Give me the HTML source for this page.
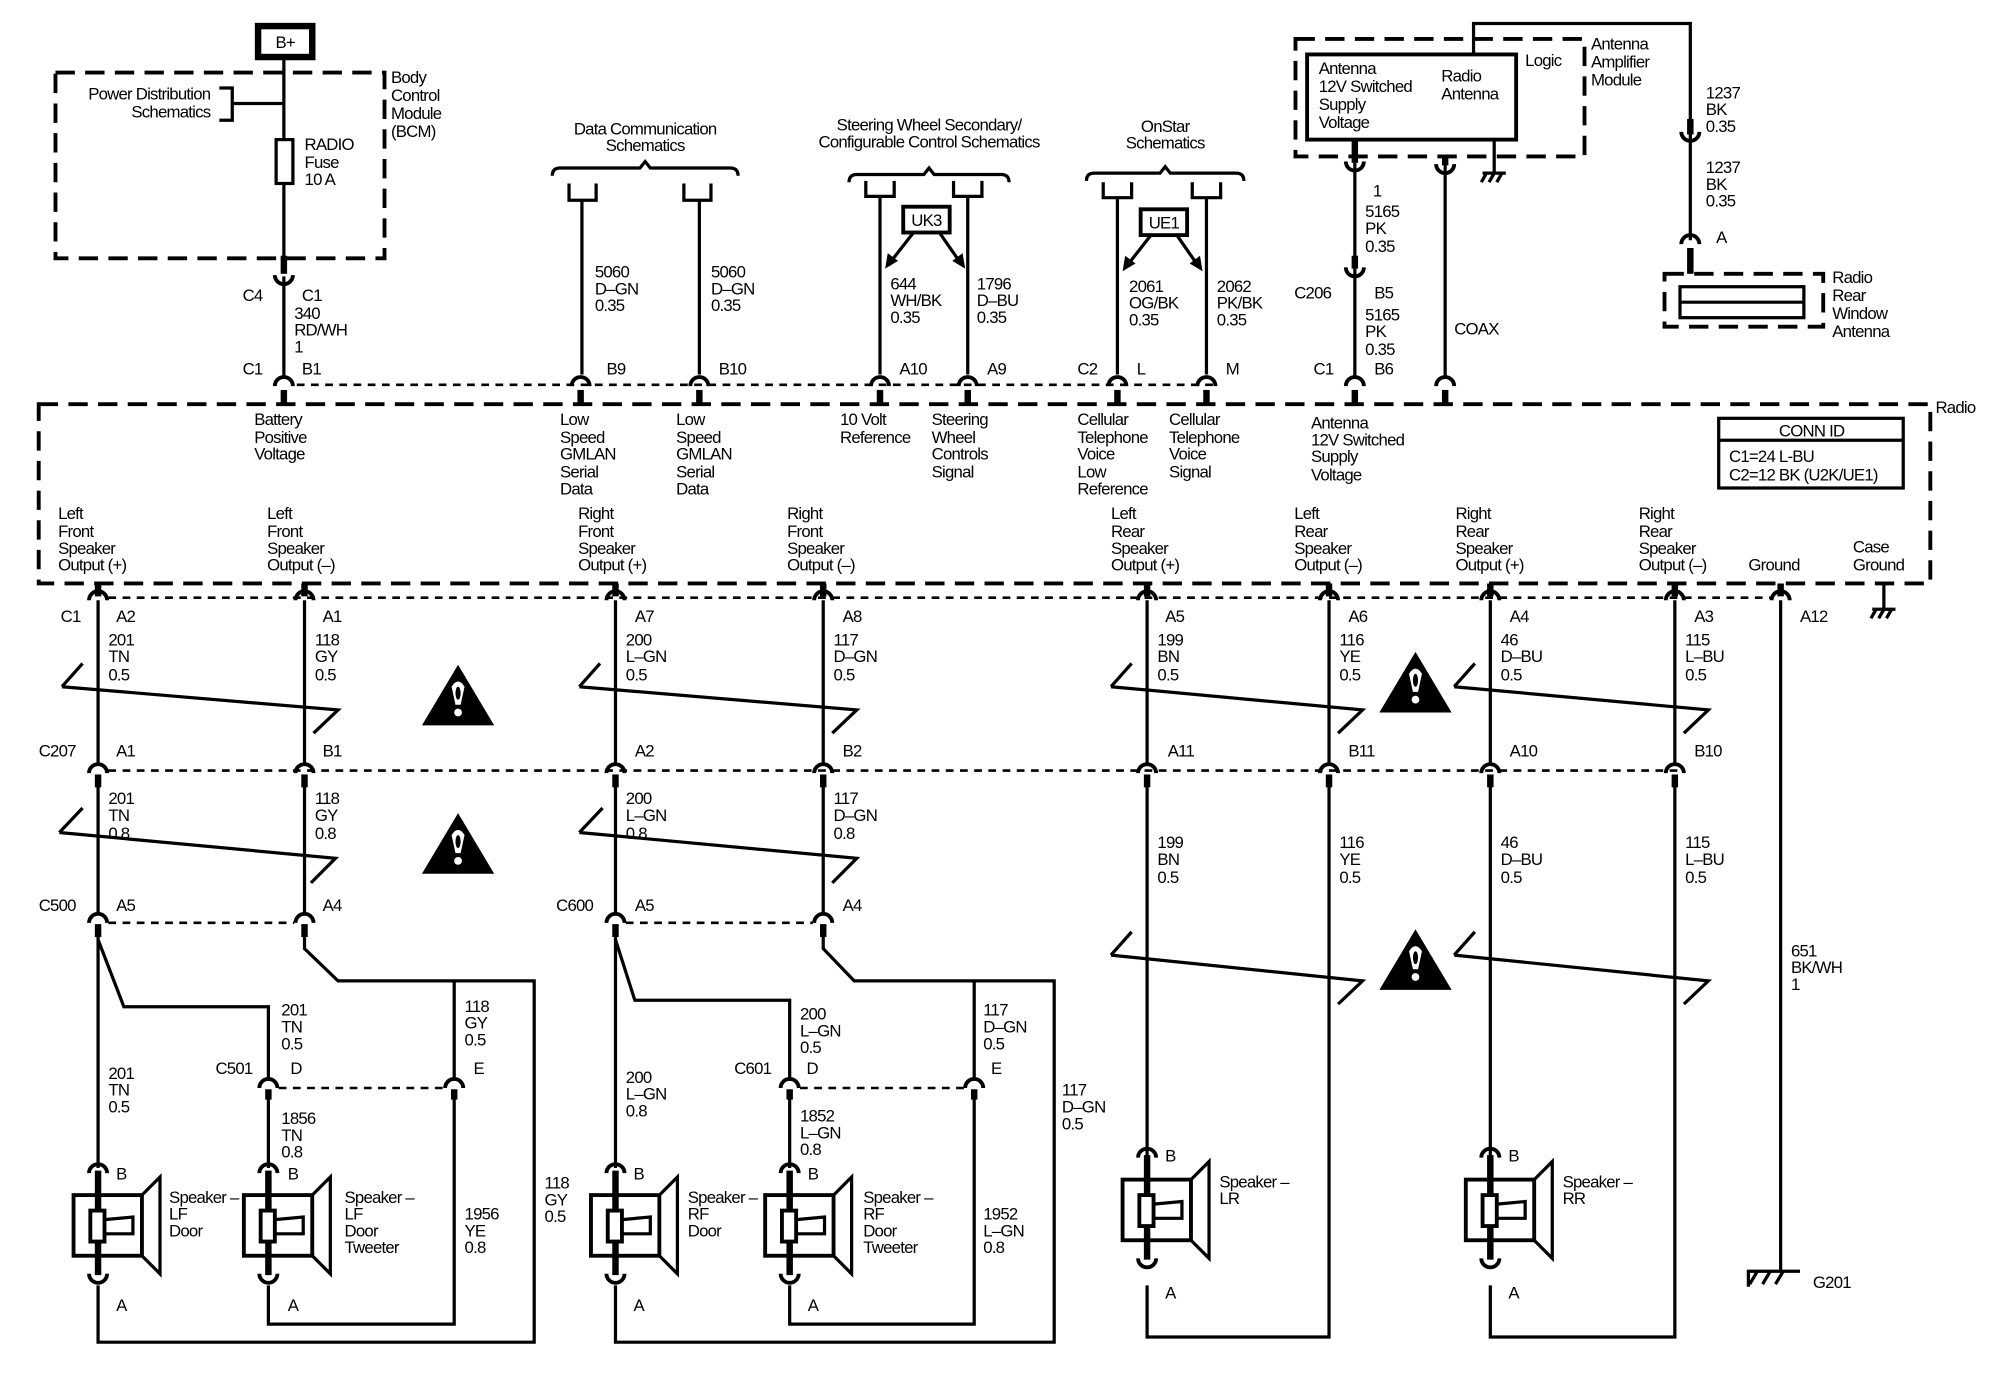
<!DOCTYPE html>
<html><head><meta charset="utf-8"><style>
html,body{margin:0;padding:0;background:#fff}
svg{display:block}
text{font-family:"Liberation Sans",sans-serif;font-size:13px;letter-spacing:-0.6px;fill:#000}
.w{stroke:#000;stroke-width:2.5;fill:none}
.t{stroke:#000;stroke-width:5;fill:none}
.d{stroke:#000;stroke-width:3;fill:none;stroke-dasharray:15 8}
.dd{stroke:#000;stroke-width:2;fill:none;stroke-dasharray:6 5}
.c{stroke:#000;stroke-width:3;fill:none}
</style></head><body>
<svg width="2000" height="1376" viewBox="0 0 1550 1066" xmlns="http://www.w3.org/2000/svg">
<defs>
<path id="cap" d="M-7,5 A7,7 0 0 1 7,5" class="c"/>
<path id="cup" d="M-7,-5 A7,7 0 0 0 7,-5" class="c"/>
<g id="spk">
<line x1="0" y1="-5" x2="0" y2="76" class="t"/>
<use href="#cap" x="0" y="-8"/>
<use href="#cup" x="0" y="80"/>
<rect x="-19" y="14" width="53" height="47" fill="none" stroke="#000" stroke-width="3"/>
<rect x="-6" y="26" width="11" height="24" fill="#fff" stroke="#000" stroke-width="3"/>
<path d="M5,33 L27,31 L27,44 L5,44" fill="none" stroke="#000" stroke-width="2.5"/>
<path d="M34,14 L48,0 L48,75 L34,61" fill="none" stroke="#000" stroke-width="2.5"/>
</g>
<g id="warn">
<polygon points="0,-25 28,22 -28,22" fill="#000"/>
<path d="M-5,-8 Q0,-16 5,-8 L2,6 L-2,6 Z" fill="#fff"/>
<circle cx="0" cy="12" r="3" fill="#fff"/>
<ellipse cx="0" cy="-3" rx="2" ry="5" fill="#000"/>
</g>
<g id="gnd">
<line x1="-9" y1="0" x2="9" y2="0" class="w"/>
<line x1="-6" y1="0" x2="-10" y2="7" class="w"/>
<line x1="0" y1="0" x2="-4" y2="7" class="w"/>
<line x1="6" y1="0" x2="2" y2="7" class="w"/>
</g>
</defs>

<!-- B+ and BCM -->
<rect x="200" y="20" width="42" height="24" fill="none" stroke="#000" stroke-width="5"/>
<text x="221" y="37" text-anchor="middle">B+</text>
<rect x="43" y="56" width="255" height="144" class="d"/>
<text x="303" y="64">Body</text><text x="303" y="78">Control</text><text x="303" y="92">Module</text><text x="303" y="106">(BCM)</text>
<line x1="220" y1="45" x2="220" y2="208" class="w"/>
<line x1="220" y1="198" x2="220" y2="212" class="t"/>
<rect x="214" y="108" width="13" height="34" fill="#fff" stroke="#000" stroke-width="2.5"/>
<text x="236" y="116">RADIO</text><text x="236" y="130">Fuse</text><text x="236" y="143">10 A</text>
<text x="163" y="77" text-anchor="end">Power Distribution</text><text x="163" y="91" text-anchor="end">Schematics</text>
<path d="M170,68 L180,68 L180,93 L170,93 M180,80 L220,80" class="w"/>
<use href="#cup" x="220" y="218"/>
<line x1="220" y1="214" x2="220" y2="292" class="w"/>
<text x="188" y="233">C4</text><text x="234" y="233">C1</text>
<text x="228" y="247">340</text><text x="228" y="260">RD/WH</text><text x="228" y="273">1</text>
<text x="188" y="290">C1</text><text x="234" y="290">B1</text>

<!-- Radio box -->
<rect x="30" y="313" width="1466" height="139" class="d"/>
<text x="1500" y="320">Radio</text>
<line x1="230" y1="298" x2="940" y2="298" class="dd"/>

<g>
<use href="#cap" x="220" y="294"/><line x1="220" y1="302" x2="220" y2="314" class="t"/>
<use href="#cap" x="450" y="294"/><line x1="450" y1="302" x2="450" y2="314" class="t"/>
<use href="#cap" x="542" y="294"/><line x1="542" y1="302" x2="542" y2="314" class="t"/>
<use href="#cap" x="682" y="294"/><line x1="682" y1="302" x2="682" y2="314" class="t"/>
<use href="#cap" x="750" y="294"/><line x1="750" y1="302" x2="750" y2="314" class="t"/>
<use href="#cap" x="866" y="294"/><line x1="866" y1="302" x2="866" y2="314" class="t"/>
<use href="#cap" x="935" y="294"/><line x1="935" y1="302" x2="935" y2="314" class="t"/>
<use href="#cap" x="1050" y="294"/><line x1="1050" y1="302" x2="1050" y2="314" class="t"/>
<use href="#cap" x="1120" y="294"/><line x1="1120" y1="302" x2="1120" y2="314" class="t"/>
</g>

<!-- Data communication -->
<text x="500" y="104" text-anchor="middle">Data Communication</text><text x="500" y="117" text-anchor="middle">Schematics</text>
<path d="M428,136 Q428,130 434,130 L496,130 L500,125 L504,130 L566,130 Q572,130 572,136" class="w"/>
<path d="M441,142 L441,155 L462,155 L462,142 M530,142 L530,155 L551,155 L551,142" class="w"/>
<line x1="451" y1="155" x2="451" y2="290" class="w"/>
<line x1="542" y1="155" x2="542" y2="290" class="w"/>
<text x="461" y="215">5060</text><text x="461" y="228">D–GN</text><text x="461" y="241">0.35</text>
<text x="551" y="215">5060</text><text x="551" y="228">D–GN</text><text x="551" y="241">0.35</text>
<text x="470" y="290">B9</text><text x="557" y="290">B10</text>

<!-- Steering -->
<text x="720" y="101" text-anchor="middle">Steering Wheel Secondary/</text><text x="720" y="114" text-anchor="middle">Configurable Control Schematics</text>
<path d="M658,141 Q658,135 664,135 L716,135 L720,130 L724,135 L776,135 Q782,135 782,141" class="w"/>
<path d="M671,140 L671,152 L693,152 L693,140 M739,140 L739,152 L761,152 L761,140" class="w"/>
<line x1="682" y1="152" x2="682" y2="290" class="w"/>
<line x1="750" y1="152" x2="750" y2="290" class="w"/>
<rect x="700" y="160" width="36" height="20" fill="#fff" stroke="#000" stroke-width="3"/>
<text x="718" y="175" text-anchor="middle">UK3</text>
<path d="M708,180 L690,203 M728,180 L744,203" class="w"/>
<polygon points="686,208 688,196 696,202" fill="#000"/><polygon points="748,208 738,202 746,196" fill="#000"/>
<text x="690" y="224">644</text><text x="690" y="237">WH/BK</text><text x="690" y="250">0.35</text>
<text x="757" y="224">1796</text><text x="757" y="237">D–BU</text><text x="757" y="250">0.35</text>
<text x="697" y="290">A10</text><text x="765" y="290">A9</text>

<!-- OnStar -->
<text x="903" y="102" text-anchor="middle">OnStar</text><text x="903" y="115" text-anchor="middle">Schematics</text>
<path d="M842,140 Q842,134 848,134 L899,134 L903,129 L907,134 L958,134 Q964,134 964,140" class="w"/>
<path d="M855,141 L855,153 L877,153 L877,141 M924,141 L924,153 L946,153 L946,141" class="w"/>
<line x1="866" y1="153" x2="866" y2="290" class="w"/>
<line x1="935" y1="153" x2="935" y2="290" class="w"/>
<rect x="884" y="162" width="36" height="20" fill="#fff" stroke="#000" stroke-width="3"/>
<text x="902" y="177" text-anchor="middle">UE1</text>
<path d="M892,182 L874,205 M912,182 L928,205" class="w"/>
<polygon points="870,210 872,198 880,204" fill="#000"/><polygon points="932,210 922,204 930,198" fill="#000"/>
<text x="875" y="226">2061</text><text x="875" y="239">OG/BK</text><text x="875" y="252">0.35</text>
<text x="943" y="226">2062</text><text x="943" y="239">PK/BK</text><text x="943" y="252">0.35</text>
<text x="835" y="290">C2</text><text x="881" y="290">L</text><text x="950" y="290">M</text>

<!-- Antenna amplifier -->
<rect x="1004" y="30" width="224" height="91" class="d"/>
<rect x="1013" y="42" width="162" height="66" fill="#fff" stroke="#000" stroke-width="3"/>
<text x="1022" y="57">Antenna</text><text x="1022" y="71">12V Switched</text><text x="1022" y="85">Supply</text><text x="1022" y="99">Voltage</text>
<text x="1117" y="63">Radio</text><text x="1117" y="77">Antenna</text>
<text x="1182" y="51">Logic</text>
<text x="1233" y="38">Antenna</text><text x="1233" y="52">Amplifier</text><text x="1233" y="66">Module</text>
<path d="M1142,42 L1142,18 L1310,18 L1310,102" class="w"/>
<line x1="1310" y1="92" x2="1310" y2="104" class="t"/>
<use href="#cup" x="1310" y="107"/>
<line x1="1310" y1="104" x2="1310" y2="186" class="w"/>
<use href="#cap" x="1310" y="184"/>
<line x1="1310" y1="192" x2="1310" y2="212" class="t"/>
<text x="1322" y="76">1237</text><text x="1322" y="89">BK</text><text x="1322" y="102">0.35</text>
<text x="1322" y="134">1237</text><text x="1322" y="147">BK</text><text x="1322" y="160">0.35</text>
<text x="1330" y="188">A</text>
<rect x="1290" y="212" width="123" height="41" class="d"/>
<rect x="1302" y="222" width="96" height="24" fill="none" stroke="#000" stroke-width="2.5"/>
<line x1="1302" y1="234" x2="1398" y2="234" class="w"/>
<text x="1420" y="219">Radio</text><text x="1420" y="233">Rear</text><text x="1420" y="247">Window</text><text x="1420" y="261">Antenna</text>

<line x1="1050" y1="108" x2="1050" y2="126" class="t"/>
<use href="#cup" x="1050" y="130"/>
<line x1="1050" y1="126" x2="1050" y2="206" class="w"/>
<line x1="1050" y1="198" x2="1050" y2="208" class="t"/>
<use href="#cup" x="1050" y="212"/>
<line x1="1050" y1="208" x2="1050" y2="292" class="w"/>
<text x="1064" y="152">1</text>
<text x="1058" y="168">5165</text><text x="1058" y="181">PK</text><text x="1058" y="195">0.35</text>
<text x="1003" y="231">C206</text><text x="1065" y="231">B5</text>
<text x="1058" y="248">5165</text><text x="1058" y="261">PK</text><text x="1058" y="275">0.35</text>
<text x="1018" y="290">C1</text><text x="1065" y="290">B6</text>
<line x1="1120" y1="121" x2="1120" y2="128" class="t"/>
<use href="#cup" x="1120" y="132"/>
<line x1="1120" y1="128" x2="1120" y2="292" class="w"/>
<text x="1127" y="259">COAX</text>
<line x1="1158" y1="108" x2="1158" y2="134" class="w"/>
<use href="#gnd" x="1158" y="134"/>

<!-- Radio inner labels -->
<text x="197" y="329">Battery</text><text x="197" y="343">Positive</text><text x="197" y="356">Voltage</text>
<text x="434" y="329">Low</text><text x="434" y="343">Speed</text><text x="434" y="356">GMLAN</text><text x="434" y="370">Serial</text><text x="434" y="383">Data</text>
<text x="524" y="329">Low</text><text x="524" y="343">Speed</text><text x="524" y="356">GMLAN</text><text x="524" y="370">Serial</text><text x="524" y="383">Data</text>
<text x="651" y="329">10 Volt</text><text x="651" y="343">Reference</text>
<text x="722" y="329">Steering</text><text x="722" y="343">Wheel</text><text x="722" y="356">Controls</text><text x="722" y="370">Signal</text>
<text x="835" y="329">Cellular</text><text x="835" y="343">Telephone</text><text x="835" y="356">Voice</text><text x="835" y="370">Low</text><text x="835" y="383">Reference</text>
<text x="906" y="329">Cellular</text><text x="906" y="343">Telephone</text><text x="906" y="356">Voice</text><text x="906" y="370">Signal</text>
<text x="1016" y="332">Antenna</text><text x="1016" y="345">12V Switched</text><text x="1016" y="358">Supply</text><text x="1016" y="372">Voltage</text>
<rect x="1332" y="324" width="143" height="54" fill="none" stroke="#000" stroke-width="2.5"/>
<line x1="1332" y1="341" x2="1475" y2="341" class="w"/>
<text x="1404" y="338" text-anchor="middle">CONN ID</text>
<text x="1340" y="358">C1=24 L-BU</text><text x="1340" y="372">C2=12 BK (U2K/UE1)</text>

<text x="45" y="402">Left</text><text x="45" y="416">Front</text><text x="45" y="429">Speaker</text><text x="45" y="442">Output (+)</text>
<text x="207" y="402">Left</text><text x="207" y="416">Front</text><text x="207" y="429">Speaker</text><text x="207" y="442">Output (–)</text>
<text x="448" y="402">Right</text><text x="448" y="416">Front</text><text x="448" y="429">Speaker</text><text x="448" y="442">Output (+)</text>
<text x="610" y="402">Right</text><text x="610" y="416">Front</text><text x="610" y="429">Speaker</text><text x="610" y="442">Output (–)</text>
<text x="861" y="402">Left</text><text x="861" y="416">Rear</text><text x="861" y="429">Speaker</text><text x="861" y="442">Output (+)</text>
<text x="1003" y="402">Left</text><text x="1003" y="416">Rear</text><text x="1003" y="429">Speaker</text><text x="1003" y="442">Output (–)</text>
<text x="1128" y="402">Right</text><text x="1128" y="416">Rear</text><text x="1128" y="429">Speaker</text><text x="1128" y="442">Output (+)</text>
<text x="1270" y="402">Right</text><text x="1270" y="416">Rear</text><text x="1270" y="429">Speaker</text><text x="1270" y="442">Output (–)</text>
<text x="1355" y="442">Ground</text>
<text x="1436" y="428">Case</text><text x="1436" y="442">Ground</text>
<line x1="1460" y1="452" x2="1460" y2="472" class="w"/>
<use href="#gnd" x="1460" y="472"/>

<!-- bottom pins row -->
<line x1="84" y1="463" x2="1372" y2="463" class="dd"/>
<g>
<line x1="76" y1="452" x2="76" y2="462" class="t"/><use href="#cap" x="76" y="460"/>
<line x1="236" y1="452" x2="236" y2="462" class="t"/><use href="#cap" x="236" y="460"/>
<line x1="477" y1="452" x2="477" y2="462" class="t"/><use href="#cap" x="477" y="460"/>
<line x1="638" y1="452" x2="638" y2="462" class="t"/><use href="#cap" x="638" y="460"/>
<line x1="889" y1="452" x2="889" y2="462" class="t"/><use href="#cap" x="889" y="460"/>
<line x1="1030" y1="452" x2="1030" y2="462" class="t"/><use href="#cap" x="1030" y="460"/>
<line x1="1155" y1="452" x2="1155" y2="462" class="t"/><use href="#cap" x="1155" y="460"/>
<line x1="1298" y1="452" x2="1298" y2="462" class="t"/><use href="#cap" x="1298" y="460"/>
<line x1="1380" y1="452" x2="1380" y2="462" class="t"/><use href="#cap" x="1380" y="460"/>
</g>
<text x="47" y="482">C1</text><text x="90" y="482">A2</text><text x="250" y="482">A1</text><text x="492" y="482">A7</text><text x="653" y="482">A8</text><text x="903" y="482">A5</text><text x="1045" y="482">A6</text><text x="1170" y="482">A4</text><text x="1313" y="482">A3</text><text x="1395" y="482">A12</text>

<path d="M76,465 V592 M236,465 V592 M477,465 V592 M638,465 V592 M889,465 V592 M1030,465 V592 M1155,465 V592 M1298,465 V592" class="w"/>
<text x="84" y="500">201</text><text x="84" y="513">TN</text><text x="84" y="527">0.5</text>
<text x="244" y="500">118</text><text x="244" y="513">GY</text><text x="244" y="527">0.5</text>
<text x="485" y="500">200</text><text x="485" y="513">L–GN</text><text x="485" y="527">0.5</text>
<text x="646" y="500">117</text><text x="646" y="513">D–GN</text><text x="646" y="527">0.5</text>
<text x="897" y="500">199</text><text x="897" y="513">BN</text><text x="897" y="527">0.5</text>
<text x="1038" y="500">116</text><text x="1038" y="513">YE</text><text x="1038" y="527">0.5</text>
<text x="1163" y="500">46</text><text x="1163" y="513">D–BU</text><text x="1163" y="527">0.5</text>
<text x="1306" y="500">115</text><text x="1306" y="513">L–BU</text><text x="1306" y="527">0.5</text>

<!-- twists -->
<path d="M48,532 L64,514 M48,532 L262,550 L243,568" class="w"/>
<path d="M449,532 L465,514 M449,532 L664,550 L645,568" class="w"/>
<path d="M861,532 L877,514 M861,532 L1056,550 L1037,568" class="w"/>
<path d="M1127,532 L1143,514 M1127,532 L1324,550 L1305,568" class="w"/>
<path d="M46,645 L64,626 M46,645 L260,665 L241,684" class="w"/>
<path d="M449,645 L467,626 M449,645 L664,665 L645,684" class="w"/>
<path d="M861,740 L877,722 M861,740 L1056,760 L1037,778" class="w"/>
<path d="M1127,740 L1143,722 M1127,740 L1324,760 L1305,778" class="w"/>
<use href="#warn" x="355" y="540"/>
<use href="#warn" x="355" y="655"/>
<use href="#warn" x="1097" y="530"/>
<use href="#warn" x="1097" y="745"/>

<!-- C207 row -->
<line x1="84" y1="597" x2="1305" y2="597" class="dd"/>
<g>
<use href="#cap" x="76" y="594"/><line x1="76" y1="600" x2="76" y2="610" class="t"/>
<use href="#cap" x="236" y="594"/><line x1="236" y1="600" x2="236" y2="610" class="t"/>
<use href="#cap" x="477" y="594"/><line x1="477" y1="600" x2="477" y2="610" class="t"/>
<use href="#cap" x="638" y="594"/><line x1="638" y1="600" x2="638" y2="610" class="t"/>
<use href="#cap" x="889" y="594"/><line x1="889" y1="600" x2="889" y2="610" class="t"/>
<use href="#cap" x="1030" y="594"/><line x1="1030" y1="600" x2="1030" y2="610" class="t"/>
<use href="#cap" x="1155" y="594"/><line x1="1155" y1="600" x2="1155" y2="610" class="t"/>
<use href="#cap" x="1298" y="594"/><line x1="1298" y1="600" x2="1298" y2="610" class="t"/>
</g>
<text x="30" y="586">C207</text><text x="90" y="586">A1</text><text x="250" y="586">B1</text><text x="492" y="586">A2</text><text x="653" y="586">B2</text><text x="905" y="586">A11</text><text x="1045" y="586">B11</text><text x="1170" y="586">A10</text><text x="1313" y="586">B10</text>

<path d="M76,606 V708 M236,606 V708 M477,606 V708 M638,606 V708" class="w"/>
<text x="84" y="623">201</text><text x="84" y="636">TN</text><text x="84" y="650">0.8</text>
<text x="244" y="623">118</text><text x="244" y="636">GY</text><text x="244" y="650">0.8</text>
<text x="485" y="623">200</text><text x="485" y="636">L–GN</text><text x="485" y="650">0.8</text>
<text x="646" y="623">117</text><text x="646" y="636">D–GN</text><text x="646" y="650">0.8</text>
<text x="897" y="657">199</text><text x="897" y="670">BN</text><text x="897" y="684">0.5</text>
<text x="1038" y="657">116</text><text x="1038" y="670">YE</text><text x="1038" y="684">0.5</text>
<text x="1163" y="657">46</text><text x="1163" y="670">D–BU</text><text x="1163" y="684">0.5</text>
<text x="1306" y="657">115</text><text x="1306" y="670">L–BU</text><text x="1306" y="684">0.5</text>

<path d="M889,606 V905 M1030,606 V1036 H889 V996 M1155,606 V905 M1298,606 V1036 H1155 V996" class="w"/>
<line x1="1380" y1="465" x2="1380" y2="985" class="w"/>
<path d="M1355,997 V985 H1395 M1362,985 L1356,995 M1372,985 L1366,995 M1382,985 L1376,995" class="w"/>
<text x="1405" y="998">G201</text>
<text x="1388" y="741">651</text><text x="1388" y="754">BK/WH</text><text x="1388" y="767">1</text>

<!-- C500 / C600 -->
<line x1="84" y1="715" x2="228" y2="715" class="dd"/>
<line x1="485" y1="715" x2="630" y2="715" class="dd"/>
<g>
<use href="#cap" x="76" y="710"/><line x1="76" y1="716" x2="76" y2="726" class="t"/>
<use href="#cap" x="236" y="710"/><line x1="236" y1="716" x2="236" y2="726" class="t"/>
<use href="#cap" x="477" y="710"/><line x1="477" y1="716" x2="477" y2="726" class="t"/>
<use href="#cap" x="638" y="710"/><line x1="638" y1="716" x2="638" y2="726" class="t"/>
</g>
<text x="30" y="706">C500</text><text x="90" y="706">A5</text><text x="250" y="706">A4</text>
<text x="431" y="706">C600</text><text x="492" y="706">A5</text><text x="653" y="706">A4</text>

<!-- LF group -->
<path d="M76,720 V905 M76,728 L96,780 H208 V836 M236,720 V735 L262,760 H414 V1040 H76 V996 M352,760 V836" class="w"/>
<line x1="216" y1="843" x2="344" y2="843" class="dd"/>
<use href="#cap" x="208" y="838"/><use href="#cap" x="352" y="838"/>
<line x1="208" y1="844" x2="208" y2="852" class="t"/><line x1="352" y1="844" x2="352" y2="852" class="t"/>
<path d="M208,850 V905 M352,850 V1026 H208 V996" class="w"/>
<text x="218" y="787">201</text><text x="218" y="800">TN</text><text x="218" y="813">0.5</text>
<text x="360" y="784">118</text><text x="360" y="797">GY</text><text x="360" y="810">0.5</text>
<text x="167" y="832">C501</text><text x="225" y="832">D</text><text x="367" y="832">E</text>
<text x="84" y="836">201</text><text x="84" y="849">TN</text><text x="84" y="862">0.5</text>
<text x="218" y="871">1856</text><text x="218" y="884">TN</text><text x="218" y="897">0.8</text>
<text x="360" y="945">1956</text><text x="360" y="958">YE</text><text x="360" y="971">0.8</text>
<text x="422" y="921">118</text><text x="422" y="934">GY</text><text x="422" y="947">0.5</text>

<!-- RF group -->
<path d="M477,720 V905 M477,728 L492,775 H612 V836 M638,720 V735 L662,760 H817 V1040 H477 V996 M755,760 V836" class="w"/>
<line x1="620" y1="843" x2="747" y2="843" class="dd"/>
<use href="#cap" x="612" y="838"/><use href="#cap" x="755" y="838"/>
<line x1="612" y1="844" x2="612" y2="852" class="t"/><line x1="755" y1="844" x2="755" y2="852" class="t"/>
<path d="M612,850 V905 M755,850 V1026 H612 V996" class="w"/>
<text x="620" y="790">200</text><text x="620" y="803">L–GN</text><text x="620" y="816">0.5</text>
<text x="762" y="787">117</text><text x="762" y="800">D–GN</text><text x="762" y="813">0.5</text>
<text x="569" y="832">C601</text><text x="625" y="832">D</text><text x="768" y="832">E</text>
<text x="485" y="839">200</text><text x="485" y="852">L–GN</text><text x="485" y="865">0.8</text>
<text x="620" y="869">1852</text><text x="620" y="882">L–GN</text><text x="620" y="895">0.8</text>
<text x="762" y="945">1952</text><text x="762" y="958">L–GN</text><text x="762" y="971">0.8</text>
<text x="823" y="849">117</text><text x="823" y="862">D–GN</text><text x="823" y="875">0.5</text>

<!-- speakers -->
<use href="#spk" x="76" y="912"/>
<use href="#spk" x="208" y="912"/>
<use href="#spk" x="477" y="912"/>
<use href="#spk" x="612" y="912"/>
<use href="#spk" x="889" y="900"/>
<use href="#spk" x="1155" y="900"/>
<text x="90" y="914">B</text><text x="90" y="1016">A</text>
<text x="223" y="914">B</text><text x="223" y="1016">A</text>
<text x="491" y="914">B</text><text x="491" y="1016">A</text>
<text x="626" y="914">B</text><text x="626" y="1016">A</text>
<text x="903" y="900">B</text><text x="903" y="1006">A</text>
<text x="1169" y="900">B</text><text x="1169" y="1006">A</text>
<text x="131" y="932">Speaker –</text><text x="131" y="945">LF</text><text x="131" y="958">Door</text>
<text x="267" y="932">Speaker –</text><text x="267" y="945">LF</text><text x="267" y="958">Door</text><text x="267" y="971">Tweeter</text>
<text x="533" y="932">Speaker –</text><text x="533" y="945">RF</text><text x="533" y="958">Door</text>
<text x="669" y="932">Speaker –</text><text x="669" y="945">RF</text><text x="669" y="958">Door</text><text x="669" y="971">Tweeter</text>
<text x="945" y="920">Speaker –</text><text x="945" y="933">LR</text>
<text x="1211" y="920">Speaker –</text><text x="1211" y="933">RR</text>
</svg>
</body></html>
